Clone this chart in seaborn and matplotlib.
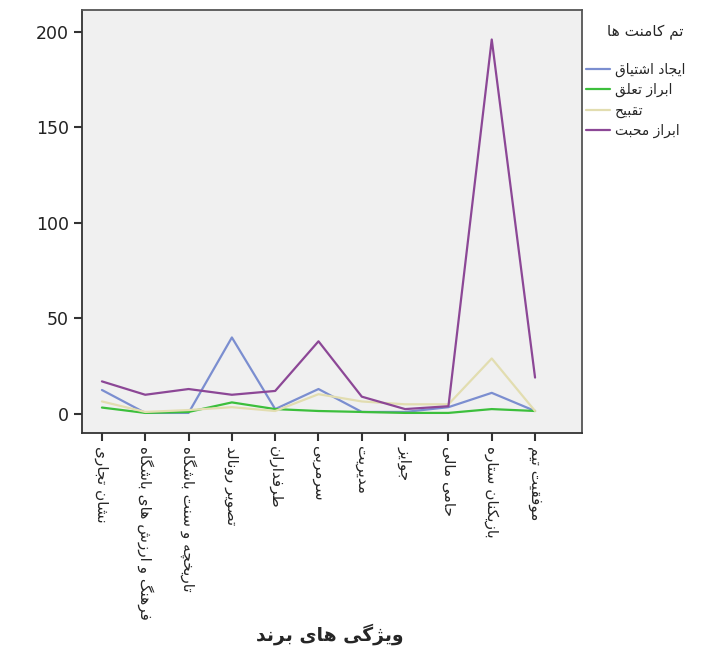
import pandas as pd
import seaborn as sns
import matplotlib.pyplot as plt

# brand features (x categories)
features = ["نشان تجاری", "فرهنگ و ارزش های باشگاه", "تاریخچه و سنت باشگاه",
            "تصویر رونالد", "طرفداران", "سرمربی", "مدیریت", "جوایز",
            "حامی مالی", "بازیکنان ستاره", "موفقیت تیم"]

series_names = ["ایجاد اشتیاق", "ابراز تعلق", "تقبیح", "ابراز محبت"]

enthusiasm = [12.5, 0.5, 0.5, 40, 2.5, 13, 1, 1, 3.5, 11, 1.5]
belonging = [3.3, 0.5, 1, 6, 2.5, 1.5, 1, 0.5, 0.5, 2.5, 1.5]
blame = [6.5, 1, 2, 3.5, 1.5, 10.3, 6.5, 5, 5, 29, 1.5]
affection = [17, 10, 13, 10, 12, 38, 9, 2.5, 4, 196, 19]

colors = ["#7b8ed0", "#3cbf3c", "#e2ddb0", "#8c4796"]

# crude arabic shaping: (isolated, final, initial, medial)
forms = {
    "ا": (0xFE8D, 0xFE8E, None, None), "ب": (0xFE8F, 0xFE90, 0xFE91, 0xFE92),
    "ت": (0xFE95, 0xFE96, 0xFE97, 0xFE98), "ج": (0xFE9D, 0xFE9E, 0xFE9F, 0xFEA0),
    "ح": (0xFEA1, 0xFEA2, 0xFEA3, 0xFEA4), "خ": (0xFEA5, 0xFEA6, 0xFEA7, 0xFEA8),
    "د": (0xFEA9, 0xFEAA, None, None), "ر": (0xFEAD, 0xFEAE, None, None),
    "ز": (0xFEAF, 0xFEB0, None, None), "س": (0xFEB1, 0xFEB2, 0xFEB3, 0xFEB4),
    "ش": (0xFEB5, 0xFEB6, 0xFEB7, 0xFEB8), "ص": (0xFEB9, 0xFEBA, 0xFEBB, 0xFEBC),
    "ط": (0xFEC1, 0xFEC2, 0xFEC3, 0xFEC4), "ع": (0xFEC9, 0xFECA, 0xFECB, 0xFECC),
    "ف": (0xFED1, 0xFED2, 0xFED3, 0xFED4), "ق": (0xFED5, 0xFED6, 0xFED7, 0xFED8),
    "ل": (0xFEDD, 0xFEDE, 0xFEDF, 0xFEE0), "م": (0xFEE1, 0xFEE2, 0xFEE3, 0xFEE4),
    "ن": (0xFEE5, 0xFEE6, 0xFEE7, 0xFEE8), "ه": (0xFEE9, 0xFEEA, 0xFEEB, 0xFEEC),
    "و": (0xFEED, 0xFEEE, None, None), "ی": (0xFBFC, 0xFBFD, 0xFBFE, 0xFBFF),
    "ک": (0xFB8E, 0xFB8F, 0xFB90, 0xFB91), "گ": (0xFB92, 0xFB93, 0xFB94, 0xFB95),
    "چ": (0xFB7A, 0xFB7B, 0xFB7C, 0xFB7D), "ژ": (0xFB8A, 0xFB8B, None, None),
    "پ": (0xFB56, 0xFB57, 0xFB58, 0xFB59),
}


def fa(text):
    out = []
    for i, ch in enumerate(text):
        if ch not in forms:
            out.append(ch)
            continue
        prev = text[i - 1] if i > 0 else ""
        nxt = text[i + 1] if i + 1 < len(text) else ""
        j_prev = prev in forms and forms[prev][2] is not None
        j_next = forms[ch][2] is not None and nxt in forms
        f = forms[ch]
        if j_prev and j_next:
            out.append(chr(f[3]))
        elif j_prev:
            out.append(chr(f[1]))
        elif j_next:
            out.append(chr(f[2]))
        else:
            out.append(chr(f[0]))
    return "".join(out)[::-1]


rows = []
for name, vals in zip(series_names, [enthusiasm, belonging, blame, affection]):
    for k, v in enumerate(vals):
        rows.append({"feature": k, "count": v, "series": fa(name)})
df = pd.DataFrame(rows)

sns.set_style("white")
plt.rcParams['font.family'] = ['DejaVu Sans']

fig = plt.figure(figsize=(7.01, 6.59), dpi=100)
ax = fig.add_axes([0.117, 0.343, 0.713, 0.642])
ax.set_facecolor("#f0f0f0")

sns.lineplot(data=df, x="feature", y="count", hue="series",
             palette=colors, linewidth=1.6, ax=ax)

ax.set_xlim(-0.46, 11.08)
ax.set_ylim(-10, 211.5)
ax.set_yticks([0, 50, 100, 150, 200])
ax.set_xticks(range(len(features)))
ax.set_xticklabels([fa(f) for f in features], rotation=-90, fontsize=11)
ax.tick_params(axis="y", labelsize=12.5, colors="#222222")
ax.tick_params(axis="both", direction="out", length=6, width=1.5,
               color="#333333", left=True, bottom=True)
for s in ax.spines.values():
    s.set_color("#555555")
    s.set_linewidth(1.3)
ax.spines["left"].set_color("#333333")
ax.spines["bottom"].set_color("#333333")
ax.set_ylabel("")
ax.set_xlabel("")

fig.text(0.47, 0.022, fa("ویژگی های برند"), ha="center", va="bottom",
         fontsize=13.5, fontweight="bold")

# legend title sits apart from the entries
fig.text(0.92, 0.951, fa("تم کامنت ها"), ha="center", va="center", fontsize=11)
leg = ax.legend(loc="upper left", bbox_to_anchor=(1.003, 0.882), frameon=False,
                fontsize=10, handlelength=1.7, handletextpad=0.4,
                labelspacing=0.45, borderaxespad=0.0, borderpad=0.2)

fig.savefig("out.png", dpi=100)
